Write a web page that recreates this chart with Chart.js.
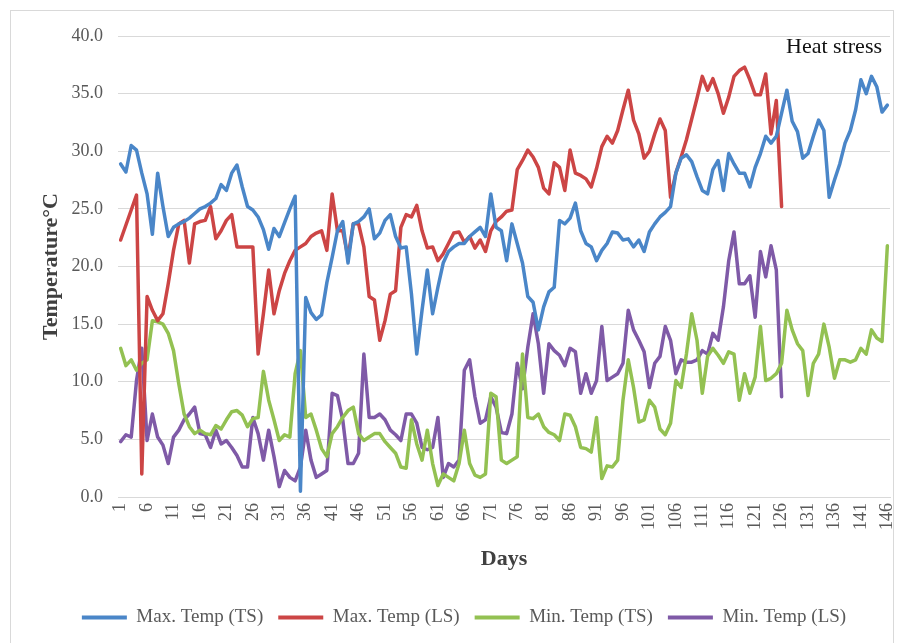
<!DOCTYPE html>
<html>
<head>
<meta charset="utf-8">
<script src="https://cdn.jsdelivr.net/npm/chart.js@4/dist/chart.umd.min.js"></script>
<style>
html,body{margin:0;padding:0;background:#fff;}
#wrap{position:relative;width:900px;height:643px;overflow:hidden;}
#c{position:absolute;left:0;top:0;}
#frame{position:absolute;left:10px;top:10px;width:884px;height:640px;border:1px solid #d9d9d9;box-sizing:border-box;pointer-events:none;}
</style>
</head>
<body>
<div id="wrap"><canvas id="c" width="900" height="643"></canvas><div id="frame"></div></div>
<script>
// ---- categories / tick labels ----
const days = Array.from({length: 146}, (_, i) => i + 1);
const xTickLabels = [1, 6, 11, 16, 21, 26, 31, 36, 41, 46, 51, 56, 61, 66, 71, 76, 81, 86, 91, 96, 101, 106, 111, 116, 121, 126, 131, 136, 141, 146];
const yTickValues = [0, 5, 10, 15, 20, 25, 30, 35, 40];
const seriesNames = ['Max. Temp (TS)', 'Max. Temp (LS)', 'Min. Temp (TS)', 'Min. Temp (LS)'];
const annotationText = 'Heat stress';

// ---- series values (°C) ----
const maxTempTS = [
  28.9, 28.2, 30.5, 30.1, 28.1, 26.3, 22.8, 28.1, 25.2, 22.6,
  23.4, 23.7, 23.9, 24.2, 24.6, 25.0, 25.2, 25.5, 25.9, 27.1,
  26.6, 28.1, 28.8, 26.9, 25.2, 24.9, 24.3, 23.2, 21.5, 23.3,
  22.6, 23.8, 25.0, 26.1, 0.5, 17.3, 16.0, 15.4, 15.8, 18.6,
  20.8, 23.1, 23.9, 20.3, 23.7, 23.9, 24.3, 25.0, 22.4, 22.9,
  24.0, 24.5, 22.6, 21.6, 21.7, 17.6, 12.4, 16.2, 19.7, 15.9,
  18.2, 20.3, 21.3, 21.7, 22.0, 22.0, 22.6, 23.0, 23.4, 22.6,
  26.3, 23.4, 23.1, 20.5, 23.7, 22.0, 20.3, 17.4, 16.9, 14.5,
  16.5, 17.8, 18.2, 24.0, 23.7, 24.2, 25.5, 23.1, 22.0, 21.7,
  20.5, 21.4, 22.0, 23.0, 22.9, 22.3, 22.4, 21.7, 22.3, 21.3,
  23.0, 23.7, 24.3, 24.7, 25.2, 28.1, 29.4, 29.7, 29.1, 27.8,
  26.6, 26.3, 28.4, 29.2, 26.6, 29.8, 28.9, 28.1, 28.1, 26.9,
  28.6, 29.8, 31.3, 30.7, 31.3, 33.3, 35.3, 32.6, 31.7, 29.4,
  29.8, 31.3, 32.7, 31.8, 26.0, 27.5, 28.9, 30.7, 31.8, 33.6,
  36.2, 35.0, 36.5, 35.6, 33.4, 34.0
];
const maxTempLS = [
  22.3, 23.6, 24.9, 26.2, 2.0, 17.4, 16.2, 15.3, 15.9, 18.5,
  21.4, 23.7, 24.0, 20.3, 23.7, 23.9, 24.0, 25.2, 22.4, 23.1,
  24.0, 24.5, 21.7, 21.7, 21.7, 21.7, 12.4, 15.9, 19.7, 15.9,
  17.9, 19.4, 20.5, 21.4, 21.7, 22.0, 22.6, 22.9, 23.1, 21.4,
  26.3, 23.1, 23.1, 20.8, 23.7, 23.7, 21.7, 17.4, 17.1, 13.6,
  15.3, 17.6, 17.9, 23.4, 24.5, 24.3, 25.3, 23.1, 21.6, 21.7,
  20.5, 21.1, 22.0, 22.9, 23.0, 22.1, 22.6, 21.6, 22.3, 21.3,
  23.1, 23.9, 24.3, 24.8, 24.9, 28.4, 29.2, 30.1, 29.5, 28.6,
  26.8, 26.3, 29.0, 28.6, 26.6, 30.1, 28.1, 27.9, 27.6, 26.9,
  28.5, 30.4, 31.3, 30.7, 31.8, 33.6, 35.3, 32.7, 31.5, 29.4,
  30.0, 31.5, 32.8, 31.8, 26.0, 28.1, 29.5, 31.0, 32.8, 34.6,
  36.5, 35.3, 36.3, 35.0, 33.3, 34.7, 36.5, 37.0, 37.3, 36.2,
  34.9, 34.9, 36.7, 31.5, 34.4, 25.2
];
const minTempTS = [
  12.9, 11.4, 11.9, 11.0, 11.6, 11.9, 15.3, 15.2, 15.0, 14.2,
  12.7, 9.8, 7.2, 6.1, 5.5, 5.8, 5.5, 5.4, 6.2, 5.9,
  6.7, 7.4, 7.5, 7.1, 6.1, 6.8, 6.9, 10.9, 8.4, 6.7,
  4.9, 5.4, 5.2, 10.7, 12.7, 6.9, 7.2, 5.8, 4.2, 3.5,
  5.5, 6.1, 6.9, 7.5, 7.8, 5.5, 4.9, 5.2, 5.5, 5.5,
  4.8, 4.3, 3.8, 2.6, 2.5, 6.7, 4.6, 3.2, 5.8, 2.9,
  1.0, 2.0, 1.7, 1.4, 2.9, 5.8, 2.9, 1.9, 1.7, 2.0,
  9.0, 8.7, 3.2, 2.9, 3.2, 3.5, 12.4, 6.9, 6.8, 7.2,
  6.1, 5.6, 5.4, 4.9, 7.2, 7.1, 6.1, 4.3, 4.2, 3.9,
  6.9, 1.6, 2.7, 2.6, 3.2, 8.4, 11.9, 9.5, 6.5, 6.7,
  8.4, 7.8, 5.9, 5.4, 6.4, 10.1, 9.5, 12.4, 15.9, 13.6,
  9.0, 12.2, 12.9, 12.3, 11.6, 12.6, 12.4, 8.4, 10.7, 9.0,
  10.4, 14.8, 10.1, 10.3, 10.7, 11.6, 16.2, 14.5, 13.3, 12.7,
  8.8, 11.6, 12.4, 15.0, 13.0, 10.3, 11.9, 11.9, 11.7, 11.9,
  12.9, 12.4, 14.5, 13.8, 13.5, 21.8
];
const minTempLS = [
  4.8, 5.4, 5.2, 10.1, 12.9, 4.9, 7.2, 5.2, 4.5, 2.9,
  5.2, 5.8, 6.7, 7.2, 7.8, 5.5, 5.4, 4.3, 5.8, 4.6,
  4.9, 4.3, 3.6, 2.6, 2.6, 6.9, 5.5, 3.2, 5.8, 3.5,
  0.9, 2.3, 1.7, 1.4, 2.6, 5.8, 3.2, 1.7, 2.0, 2.3,
  9.0, 8.8, 6.7, 2.9, 2.9, 3.8, 12.4, 6.9, 6.9, 7.2,
  6.7, 5.8, 5.4, 4.9, 7.2, 7.2, 6.4, 4.3, 4.1, 4.3,
  6.9, 1.7, 2.9, 2.6, 3.2, 11.0, 11.9, 8.7, 6.4, 6.7,
  8.7, 7.8, 5.6, 5.5, 7.2, 11.6, 9.4, 13.0, 15.9, 13.3,
  9.0, 13.3, 12.7, 12.3, 11.4, 12.9, 12.6, 9.0, 10.7, 9.0,
  10.1, 14.8, 10.1, 10.4, 10.7, 11.6, 16.2, 14.5, 13.6, 12.6,
  9.5, 11.6, 12.2, 14.8, 13.6, 10.7, 11.9, 11.7, 11.7, 11.9,
  12.7, 12.4, 14.2, 13.6, 16.5, 20.5, 23.0, 18.5, 18.5, 19.2,
  15.6, 21.3, 19.1, 21.8, 19.7, 8.7
];

// ---- styling ----
const SERIF = '"Liberation Serif", "Times New Roman", serif';
const COLORS = ['#4a86c8', '#cc4545', '#93c152', '#7f5aa7'];
const seriesData = [maxTempTS, maxTempLS, minTempTS, minTempLS];

const heatStressPlugin = {
  id: 'heatStress',
  afterDraw(chart) {
    const {ctx, chartArea} = chart;
    ctx.save();
    ctx.font = '22px ' + SERIF;
    ctx.fillStyle = '#111';
    ctx.textAlign = 'right';
    ctx.textBaseline = 'middle';
    ctx.fillText(annotationText, chartArea.right - 8, chartArea.top + 11);
    ctx.restore();
  }
};

new Chart(document.getElementById('c'), {
  type: 'line',
  data: {
    labels: days.map(String),
    datasets: seriesNames.map((name, i) => ({
      label: name,
      data: seriesData[i],
      borderColor: COLORS[i],
      backgroundColor: COLORS[i],
      borderWidth: 3.5,
      pointRadius: 0,
      tension: 0,
      borderJoinStyle: 'round',
      borderCapStyle: 'round',
      fill: false
    }))
  },
  options: {
    responsive: false,
    animation: false,
    devicePixelRatio: 1,
    layout: {padding: {left: 38, right: 10, top: 36, bottom: 6}},
    plugins: {
      legend: {
        position: 'bottom',
        labels: {
          font: {family: SERIF, size: 19},
          color: '#595959',
          boxWidth: 45,
          boxHeight: 4,
          padding: 15,
          generateLabels(chart) {
            return Chart.defaults.plugins.legend.labels.generateLabels(chart).map(l => Object.assign(l, {lineWidth: 0}));
          }
        }
      },
      tooltip: {enabled: false}
    },
    scales: {
      x: {
        offset: true,
        grid: {display: false, drawTicks: false},
        border: {display: true, color: '#d9d9d9'},
        ticks: {
          autoSkip: false,
          maxRotation: 90,
          minRotation: 90,
          padding: 6,
          color: '#595959',
          font: {family: SERIF, size: 18},
          callback: (v, i) => xTickLabels.includes(days[i]) ? String(days[i]) : null
        },
        title: {
          display: true,
          text: 'Days',
          color: '#404040',
          font: {family: SERIF, size: 22, weight: 'bold'},
          padding: {top: 0, bottom: 20}
        },
        afterFit(s) { s.height = 96; s.paddingLeft = 0; s.paddingRight = 0; }
      },
      y: {
        min: 0,
        max: 40,
        afterBuildTicks(s) { s.ticks = yTickValues.map(v => ({value: v})); },
        grid: {color: '#d9d9d9', lineWidth: 1, drawTicks: false},
        border: {display: false},
        ticks: {
          padding: 15,
          color: '#595959',
          font: {family: SERIF, size: 18},
          callback: v => Number(v).toFixed(1)
        },
        title: {
          display: true,
          text: 'Temperature°C',
          color: '#404040',
          font: {family: SERIF, size: 22, weight: 'bold'},
          padding: {top: 0, bottom: 0}
        },
        afterFit(s) { s.width = 80; }
      }
    }
  },
  plugins: [heatStressPlugin]
});
</script>
</body>
</html>
